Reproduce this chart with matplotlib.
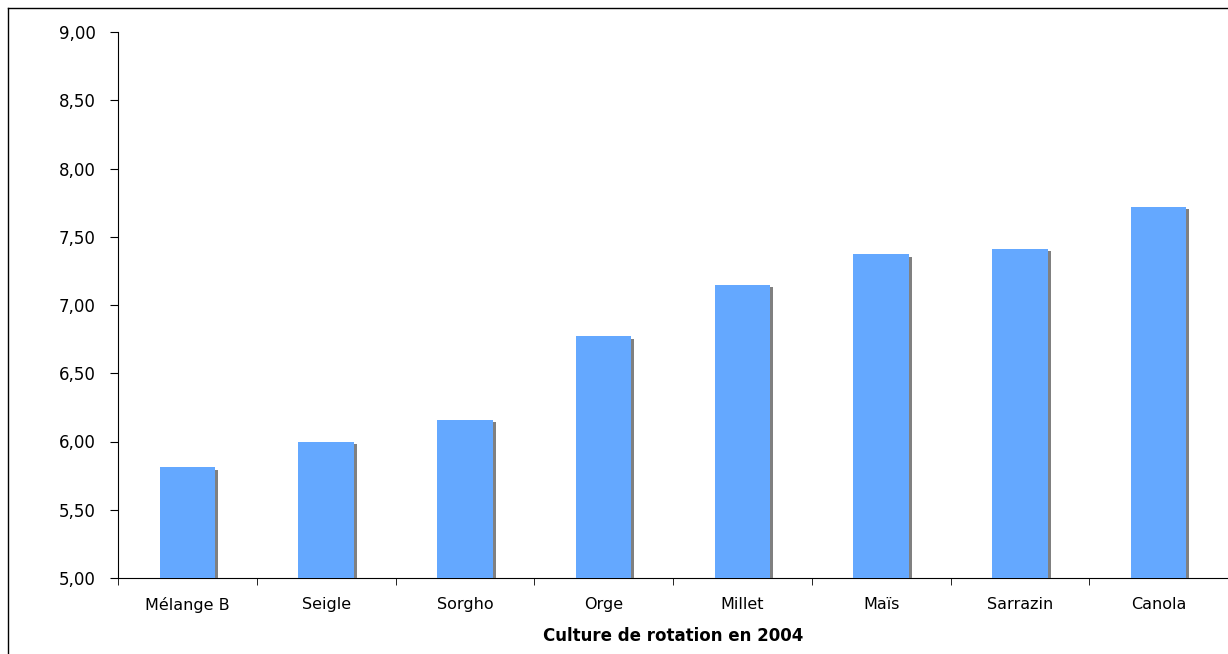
import matplotlib
matplotlib.use('Agg')
import matplotlib.pyplot as plt
import matplotlib.patheffects as pe
from matplotlib.lines import Line2D
from matplotlib.ticker import FuncFormatter
import numpy as np

cultures = ['Mélange B', 'Seigle', 'Sorgho', 'Orge', 'Millet', 'Maïs', 'Sarrazin', 'Canola']
valeurs = [5.81, 6.00, 6.16, 6.77, 7.15, 7.37, 7.41, 7.72]

fig = plt.figure(figsize=(12.28, 6.54), dpi=100)
ax = fig.add_axes([118 / 1228, 1 - 578 / 654, 1 - 118 / 1228, (578 - 32) / 654])

x = np.arange(len(cultures))
shadow = [pe.SimplePatchShadow(offset=(2.2, -1.6), shadow_rgbFace='#808080', alpha=1.0), pe.Normal()]
ax.bar(x, [v - 5 for v in valeurs], bottom=5, width=0.4, color='#64A8FF',
       path_effects=shadow, zorder=3)

ax.set_xlim(-0.5, len(cultures) - 0.5)
ax.set_ylim(5, 9)
ax.set_yticks(np.arange(5, 9.01, 0.5))
ax.yaxis.set_major_formatter(FuncFormatter(lambda v, p: f'{v:.2f}'.replace('.', ',')))
ax.set_xticks(x)
ax.set_xticklabels(cultures)
ax.set_xticks(np.arange(-0.5, len(cultures)), minor=True)
ax.tick_params(axis='x', which='major', length=0, pad=14, labelsize=11.5)
ax.tick_params(axis='x', which='minor', length=5, direction='out')
ax.tick_params(axis='y', length=6, direction='out', labelsize=12, pad=10)
for s in ['top', 'right']:
    ax.spines[s].set_visible(False)
ax.set_xlabel('Culture de rotation en 2004', fontweight='bold', fontsize=12, labelpad=10)

# cadre du graphique
fig.add_artist(Line2D([8 / 1228, 1], [1 - 8 / 654, 1 - 8 / 654], color='black', lw=1, transform=fig.transFigure))
fig.add_artist(Line2D([8 / 1228, 8 / 1228], [0, 1 - 8 / 654], color='black', lw=1, transform=fig.transFigure))

fig.savefig('out.png', dpi=100)
